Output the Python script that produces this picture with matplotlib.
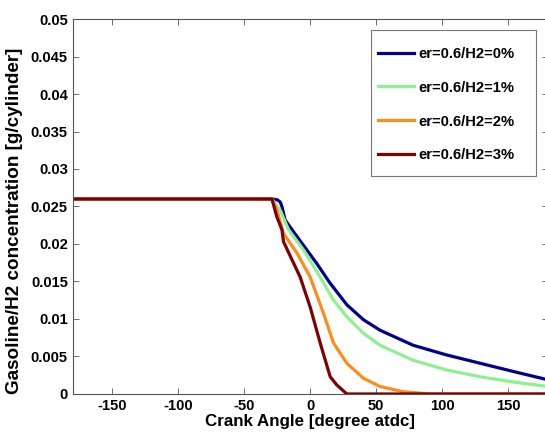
import matplotlib
matplotlib.use("Agg")
import matplotlib.pyplot as plt
from matplotlib.patches import Rectangle

plt.rcParams['font.family'] = ['Liberation Sans', 'DejaVu Sans']
plt.rcParams['font.weight'] = 'bold'
plt.rcParams['axes.unicode_minus'] = False

# crank angle [deg atdc] / concentration [g/cylinder]
h0_x = [-180, -29, -25, -22.7, -21.4, -19, -10, 5, 15, 27.8, 40.4, 53, 78, 103.5, 128.8, 154, 180]
h0_y = [0.026, 0.026, 0.0259, 0.0256, 0.025, 0.0232, 0.021, 0.0174, 0.0148, 0.0119, 0.0099, 0.0085, 0.0065, 0.0052, 0.0041, 0.003, 0.0019]

h1_x = [-180, -29, -22.7, -16.4, -5, 7.6, 17.7, 27.8, 40.4, 53, 78, 103.5, 128.8, 154, 180]
h1_y = [0.026, 0.026, 0.0245, 0.0219, 0.0192, 0.0156, 0.0125, 0.0103, 0.0081, 0.0065, 0.0045, 0.0032, 0.0023, 0.0016, 0.001]

h2_x = [-180, -29, -25.2, -20.2, -10, 0, 10, 17.7, 27.8, 40.4, 53, 70.7, 91, 180]
h2_y = [0.026, 0.026, 0.0245, 0.0214, 0.0188, 0.0156, 0.0108, 0.0068, 0.0041, 0.0021, 0.001, 0.0003, 0.0, 0.0]

h3_x = [-180, -29, -25.2, -21.4, -20.2, -7.6, 0, 7.6, 15.2, 20.2, 27.8, 180]
h3_y = [0.026, 0.026, 0.0236, 0.0219, 0.0203, 0.0156, 0.0116, 0.0068, 0.0023, 0.0012, 0.0, 0.0]

labels = ['er=0.6/H2=0%', 'er=0.6/H2=1%', 'er=0.6/H2=2%', 'er=0.6/H2=3%']
colors = ['#00008f', '#8ff08f', '#ff8c1a', '#800000']

fig = plt.figure(figsize=(5.45, 4.34), dpi=100)
ax = fig.add_axes([0.1334, 0.0922, 0.8714, 0.8640])

for xs, ys, lab, c in zip([h0_x, h1_x, h2_x, h3_x], [h0_y, h1_y, h2_y, h3_y], labels, colors):
    ax.plot(xs, ys, color=c, linewidth=2.3, label=lab)

ax.set_xlim(-180, 180)
ax.set_ylim(0, 0.05)
ax.set_xticks([-150, -100, -50, 0, 50, 100, 150])
ax.set_yticks([0, 0.005, 0.01, 0.015, 0.02, 0.025, 0.03, 0.035, 0.04, 0.045, 0.05])
ax.set_yticklabels(['0', '0.005', '0.01', '0.015', '0.02', '0.025', '0.03', '0.035', '0.04', '0.045', '0.05'])
ax.tick_params(direction='in', top=True, right=True, labelsize=10.6, length=4, width=0.6,
               color='#555555', pad=3.5)
for s in ax.spines.values():
    s.set_color('#555555')
    s.set_linewidth(0.8)

ax.set_xlabel('Crank Angle [degree atdc]', fontsize=12.2, fontweight='bold', labelpad=1)
ax.set_ylabel('Gasoline/H2 concentration [g/cylinder]', fontsize=13.6, fontweight='bold')
ax.yaxis.set_label_coords(-0.105, 0.461)

# matlab style legend: roomy box drawn separately, entries on top
ax.add_patch(Rectangle((0.628, 0.5813), 0.3476, 0.3894, transform=ax.transAxes,
                       facecolor='white', edgecolor='#777777', linewidth=0.8, zorder=3))
leg = ax.legend(loc='upper left', bbox_to_anchor=(0.628, 0.9456), frameon=False,
                fontsize=10.6, labelspacing=1.35, handlelength=2.45, handletextpad=0.27,
                borderpad=0.5, borderaxespad=0)

fig.savefig('out.png', dpi=100)
